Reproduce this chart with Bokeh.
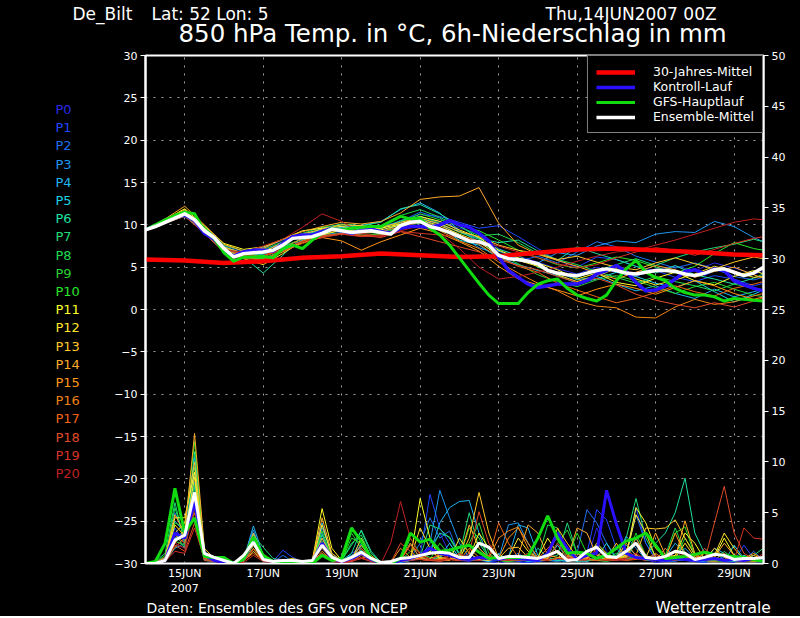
from bokeh.plotting import figure
from bokeh.layouts import column, row
from bokeh.models import Range1d, LinearAxis, Legend, LegendItem, FixedTicker
from bokeh.core.properties import value
from bokeh.embed import file_html
from bokeh.resources import INLINE

FONT = "DejaVu Sans"

# ---------------- time axes (days after 14JUN2007 00Z) ----------------
steps_6h = list(range(64))
days_6h = [s * 0.25 for s in steps_6h]
days_12h = [k * 0.5 for k in range(32)] + [15.75]
clim_days = list(range(16)) + [15.75]

date_ticks = [1, 3, 5, 7, 9, 11, 13, 15]
date_labels = ["15JUN\n2007", "17JUN", "19JUN", "21JUN", "23JUN", "25JUN", "27JUN", "29JUN"]
temp_ticks = list(range(-30, 31, 5))
prec_ticks = list(range(0, 51, 5))

member_names = ["P%d" % i for i in range(21)]
member_colors = ["#2828e6", "#1e46ff", "#1e6ef0", "#1e96f0", "#1eb4f0", "#1ed2e6", "#1ee0a0",
                 "#1edc78", "#1edc50", "#28d232", "#28e628", "#ffff28", "#ffe628", "#ffc828",
                 "#ffaa28", "#ff9614", "#f08214", "#f06414", "#e04a28", "#d83228", "#c02020"]

station_text = "De_Bilt"
coord_text = "Lat: 52 Lon: 5"
run_text = "Thu,14JUN2007 00Z"
title_text = "850 hPa Temp. in °C, 6h-Niederschlag in mm"
source_text = "Daten: Ensembles des GFS von NCEP"
brand_text = "Wetterzentrale"
legend_labels = ["30-Jahres-Mittel", "Kontroll-Lauf", "GFS-Hauptlauf", "Ensemble-Mittel"]

# ---------------- 850 hPa temperature ----------------
clim_temp = [5.9, 5.8, 5.5, 5.7, 6.1, 6.3, 6.6, 6.4, 6.2, 6.3, 6.7, 7.1, 7.2, 7.0, 6.8, 6.5, 6.4]

mean_temp = [9.4, 9.8, 10.3, 10.8, 11.3, 10.6, 9.3, 8.5, 7.2, 6.2, 6.6, 6.7, 6.8, 7.0, 7.6, 8.4,
             8.5, 8.6, 9.0, 9.5, 9.3, 9.1, 9.2, 9.3, 9.1, 8.9, 9.9, 10.3, 10.4, 9.8, 9.5, 9.1,
             8.6, 8.1, 8.0, 7.6, 6.4, 6.0, 5.9, 5.7, 5.4, 4.6, 4.3, 4.1, 4.0, 4.3, 4.6, 4.8,
             4.6, 4.3, 4.2, 4.4, 4.6, 4.6, 4.5, 4.2, 4.0, 4.3, 4.7, 4.8, 4.4, 4.0, 4.3, 5.0]

gfs_temp = [9.4, 10.0, 10.6, 11.1, 11.5, 11.3, 9.3, 8.4, 6.7, 5.7, 6.2, 6.2, 6.3, 6.1, 7.2, 7.6,
            7.2, 8.2, 9.0, 9.6, 9.4, 9.6, 9.7, 9.8, 9.8, 10.4, 11.0, 10.7, 10.8, 9.6, 8.8, 7.6,
            6.1, 4.6, 3.1, 1.7, 0.7, 0.7, 0.7, 2.0, 3.0, 3.4, 3.6, 2.5, 1.7, 1.3, 1.0, 1.7,
            3.4, 4.8, 5.8, 4.4, 3.8, 3.4, 2.5, 2.0, 1.7, 1.7, 1.5, 1.0, 1.3, 1.2, 1.1, 1.0]

ctrl_temp = [9.4, 9.9, 10.4, 10.9, 11.2, 10.5, 9.0, 8.3, 7.0, 6.3, 6.8, 7.0, 7.0, 6.9, 7.8, 8.6,
             8.8, 8.8, 9.2, 9.6, 9.3, 9.0, 9.3, 9.5, 9.2, 9.0, 9.6, 9.8, 9.8, 9.7, 10.0, 10.5,
             10.0, 9.7, 9.0, 8.1, 6.2, 4.6, 3.8, 3.0, 2.6, 2.8, 3.0, 3.0, 3.0, 3.4, 4.2, 4.6,
             5.2, 4.5, 3.2, 2.2, 2.3, 2.8, 3.6, 4.5, 4.7, 4.2, 4.8, 4.6, 3.4, 2.9, 2.5, 2.2]

# ensemble members, 12-hourly
p0_temp = [9.4, 10.2, 11.2, 9.4, 7.3, 6.8, 7.0, 7.9, 8.7, 9.2, 9.6,
           9.5, 9.3, 10.2, 10.9, 10.4, 9.6, 9.0, 7.2, 6.3, 5.6, 4.8,
           4.2, 5.0, 4.4, 3.9, 4.8, 5.1, 4.6, 5.5, 4.9, 4.2, 4.5]
p1_temp = [9.4, 10.3, 11.0, 9.2, 7.0, 6.5, 6.9, 7.7, 8.8, 9.4, 9.7,
           9.4, 9.6, 10.5, 11.2, 11.0, 10.3, 9.6, 9.9, 8.6, 7.2, 5.8,
           5.0, 6.2, 5.9, 5.1, 4.6, 3.8, 3.3, 4.0, 3.6, 2.8, 3.1]
p2_temp = [9.4, 10.4, 11.4, 9.6, 7.5, 6.9, 7.3, 8.2, 8.9, 9.5, 9.8,
           9.7, 9.8, 10.4, 11.5, 10.8, 9.2, 8.4, 6.6, 5.7, 6.3, 5.5,
           6.8, 8.0, 7.4, 6.3, 5.6, 4.9, 5.5, 4.8, 3.9, 3.5, 3.8]
p3_temp = [9.4, 10.2, 11.1, 9.0, 7.1, 6.4, 6.6, 7.4, 8.3, 8.8, 9.1,
           9.0, 9.2, 10.0, 10.7, 10.1, 8.8, 7.3, 6.5, 5.9, 5.5, 6.7,
           6.4, 7.5, 8.1, 7.9, 8.9, 9.2, 9.1, 10.4, 9.8, 8.5, 8.0]
p4_temp = [9.4, 10.3, 11.3, 9.5, 7.4, 6.6, 6.5, 7.3, 8.4, 9.3, 9.7,
           9.9, 10.4, 11.8, 12.6, 11.4, 9.3, 8.0, 6.9, 6.0, 5.2, 4.4,
           3.5, 3.9, 3.0, 2.2, 2.8, 1.9, 1.3, 2.4, 1.5, 2.1, 2.4]
p5_temp = [9.4, 10.2, 11.0, 9.1, 7.0, 6.3, 5.8, 6.9, 8.2, 8.9, 9.4,
           9.3, 9.1, 9.8, 10.6, 9.7, 8.2, 7.6, 6.1, 5.3, 4.6, 4.0,
           3.1, 3.6, 4.4, 3.9, 3.1, 2.6, 3.4, 2.1, 0.9, 1.8, 2.3]
p6_temp = [9.4, 10.4, 11.6, 9.3, 7.2, 6.2, 4.3, 6.4, 8.6, 9.6, 10.1,
           9.9, 10.3, 11.9, 12.4, 11.3, 9.9, 8.4, 7.9, 8.2, 6.9, 5.8,
           7.4, 6.6, 5.9, 5.1, 4.3, 5.2, 4.1, 3.6, 3.0, 3.7, 4.2]
p7_temp = [9.4, 10.3, 11.2, 9.4, 7.3, 6.7, 6.9, 7.8, 8.8, 9.3, 9.6,
           9.4, 9.5, 10.5, 11.0, 10.2, 9.1, 8.3, 7.1, 6.4, 5.0, 4.2,
           3.8, 4.6, 5.3, 6.0, 5.2, 6.1, 6.8, 7.3, 7.7, 8.3, 8.0]
p8_temp = [9.4, 10.5, 11.7, 9.8, 7.6, 6.9, 7.1, 8.0, 9.0, 9.7, 10.0,
           9.8, 9.9, 11.1, 11.8, 10.9, 9.8, 8.7, 8.9, 7.9, 6.6, 5.9,
           5.3, 4.5, 3.8, 3.1, 3.9, 3.3, 2.8, 2.2, 3.0, 2.5, 2.1]
p9_temp = [9.4, 10.2, 11.1, 9.2, 7.1, 6.5, 6.6, 7.5, 8.3, 8.7, 9.0,
           8.8, 8.9, 9.8, 10.2, 9.4, 8.5, 7.9, 6.6, 5.4, 4.1, 3.3,
           2.7, 3.5, 4.0, 3.4, 2.6, 1.9, 2.7, 3.2, 2.4, 1.7, 1.5]
p10_temp = [9.4, 10.4, 11.5, 9.7, 7.4, 6.1, 6.0, 7.0, 8.0, 8.9, 9.3,
            9.1, 9.0, 10.3, 11.3, 10.6, 9.9, 9.3, 8.2, 7.0, 6.1, 5.3,
            4.9, 5.5, 6.2, 5.8, 5.0, 4.3, 5.1, 6.6, 7.9, 7.2, 7.0]
p11_temp = [9.4, 10.6, 11.9, 9.9, 7.8, 7.1, 7.4, 8.3, 9.3, 9.6, 9.8,
            9.5, 9.6, 10.1, 11.0, 10.4, 9.4, 8.5, 7.0, 6.1, 5.5, 4.7,
            3.6, 4.3, 3.2, 2.8, 3.7, 4.4, 3.4, 2.9, 3.9, 4.6, 4.2]
p12_temp = [9.4, 10.3, 11.3, 9.0, 6.8, 6.0, 5.3, 6.6, 8.1, 8.8, 9.4,
            9.2, 9.4, 10.0, 10.6, 9.9, 8.9, 8.0, 6.3, 5.8, 5.1, 4.1,
            3.3, 4.0, 4.8, 3.6, 2.9, 3.5, 4.2, 5.1, 4.5, 3.8, 3.9]
p13_temp = [9.4, 10.5, 11.8, 9.6, 7.4, 6.6, 6.8, 7.9, 8.9, 9.5, 10.0,
            9.9, 9.7, 10.3, 10.8, 10.1, 9.2, 8.6, 7.6, 7.0, 6.6, 5.9,
            6.3, 5.6, 5.0, 4.7, 5.5, 6.1, 5.4, 4.8, 5.6, 6.2, 6.0]
p14_temp = [9.4, 10.7, 12.2, 10.0, 7.7, 6.9, 7.2, 8.3, 9.2, 9.8, 10.3,
            10.1, 10.4, 11.4, 13.0, 13.3, 13.4, 14.4, 10.2, 7.6, 6.5, 5.8,
            5.1, 4.3, 3.6, 4.4, 5.2, 4.7, 3.8, 4.5, 5.0, 4.1, 3.7]
p15_temp = [9.4, 10.4, 11.4, 9.3, 7.0, 6.3, 5.7, 6.8, 7.9, 8.5, 8.1,
            7.0, 8.0, 8.8, 9.6, 9.0, 8.0, 6.9, 5.1, 3.6, 2.9, 2.3,
            1.6, 2.4, 3.0, 2.5, 1.8, 2.6, 3.4, 2.8, 1.9, 1.2, 1.5]
p16_temp = [9.4, 10.5, 11.6, 9.5, 7.2, 6.5, 6.3, 7.2, 8.4, 9.1, 9.4,
            9.0, 9.2, 9.8, 10.5, 9.3, 8.1, 7.2, 5.6, 4.3, 3.1, 2.2,
            1.0, 0.4, 0.2, -0.9, -1.0, 0.3, 1.2, 0.6, 0.9, 1.6, 1.9]
p17_temp = [9.4, 10.3, 11.5, 9.1, 6.9, 6.0, 5.9, 6.9, 7.8, 8.6, 8.9,
            8.7, 8.8, 9.6, 10.4, 9.7, 8.7, 7.7, 6.2, 5.1, 4.4, 3.1,
            2.3, 1.5, 0.8, 1.3, 2.0, 2.8, 2.1, 1.6, 2.5, 3.0, 3.3]
p18_temp = [9.4, 10.4, 11.4, 9.4, 7.2, 6.4, 6.2, 7.1, 8.1, 8.7, 9.0,
            8.8, 8.5, 9.2, 8.6, 8.0, 7.4, 6.8, 5.9, 5.2, 4.7, 3.9,
            3.2, 3.7, 2.9, 1.8, 1.1, 0.6, 0.2, 0.8, 0.3, 1.0, 1.4]
p19_temp = [9.4, 10.2, 11.0, 9.0, 6.8, 6.2, 6.4, 7.2, 8.0, 8.5, 8.9,
            8.6, 8.7, 9.2, 9.0, 8.8, 8.6, 8.1, 7.5, 6.8, 6.1, 5.4,
            4.9, 5.3, 6.1, 6.8, 7.3, 7.0, 6.4, 7.1, 7.8, 8.4, 8.6]
p20_temp = [9.4, 10.3, 11.2, 9.2, 7.0, 6.8, 7.5, 8.3, 9.7, 11.3, 10.4,
            9.0, 8.6, 9.3, 9.9, 9.0, 7.2, 5.0, 3.6, 3.9, 4.4, 5.0,
            5.7, 6.3, 6.8, 7.0, 7.6, 8.2, 8.9, 9.6, 10.3, 10.7, 10.6]

# ---------------- 6h precipitation (mm) ----------------
mean_prec = [0, 0, 0.3, 2.3, 2.8, 7.0, 1.0, 0.6, 0.3, 0, 0.8, 2.1, 0.4, 0.2, 0.3, 0.3,
             0.2, 0.3, 1.8, 0.6, 0.2, 0.6, 1.1, 0.5, 0.1, 0.2, 0.5, 0.6, 0.8, 1.0, 1.1, 1.0,
             0.6, 0.6, 2.0, 1.6, 0.5, 0.7, 0.7, 0.6, 0.5, 0.8, 1.2, 0.3, 0.4, 1.2, 1.6, 0.7,
             0.6, 1.2, 2.0, 0.6, 0.5, 0.7, 1.2, 1.0, 0.4, 0.6, 0.9, 0.8, 0.4, 0.5, 0.5, 0.6]
gfs_prec = [0, 0.2, 2.0, 7.4, 3.0, 4.5, 0.7, 0.6, 0.6, 0, 0.4, 2.6, 0.8, 0.2, 0.1, 0,
            0, 0, 0.8, 0.3, 0.5, 3.5, 2.2, 0.5, 0, 0, 0.5, 3.0, 2.1, 2.4, 1.2, 1.3,
            1.6, 1.8, 1.1, 0.5, 0.6, 0.6, 0.6, 0.7, 2.5, 4.7, 2.5, 1.0, 1.1, 1.0, 0.5, 0.8,
            1.5, 2.2, 2.5, 3.0, 1.8, 0.5, 0.6, 0.7, 0.9, 1.1, 0.9, 0.8, 0.7, 0.6, 0.4, 0.2]
ctrl_prec = [0, 0, 0.3, 3.0, 2.5, 6.0, 0.8, 0.3, 0.1, 0, 0.4, 2.5, 0.5, 0.2, 0.3, 0.2,
             0.1, 0.2, 2.0, 0.5, 0.2, 0.5, 1.0, 0.4, 0, 0, 0.3, 0.5, 0.8, 1.5, 1.0, 0.8,
             0.5, 0.4, 0.6, 0.5, 0.4, 0.6, 0.5, 0.4, 0.3, 1.0, 3.0, 1.5, 0.4, 0.8, 1.0, 7.2,
             3.9, 1.0, 0.6, 0.5, 0.4, 0.3, 0.5, 0.4, 0.3, 0.4, 0.5, 0.3, 0.4, 0.3, 0.5, 0.4]

p0_prec = [0, 0, 0.2, 2.0, 1.5, 6.5, 0.8, 0.3, 0, 0, 0.3, 2.4, 0.3, 0, 0.2, 0,
           0, 0.2, 1.5, 0.3, 0, 0.2, 1.0, 0.3, 0, 0, 0, 0.3, 0.5, 1.5, 3.0, 1.0,
           0.3, 0.2, 0.5, 0.2, 0, 0.3, 0.2, 0, 0.3, 0.5, 2.0, 1.0, 0.2, 0.3, 3.5, 1.2,
           0.3, 0.5, 2.0, 0.4, 0.1, 0.2, 0.3, 0.8, 0.2, 0.1, 0.5, 0.2, 0.1, 0.6, 0.2, 0.1]
p1_prec = [0, 0, 0.3, 3.5, 2.0, 9.0, 1.0, 0.4, 0.1, 0, 0.4, 3.0, 0.5, 0.2, 1.3, 0.6,
           0.2, 0.1, 2.5, 0.4, 0, 1.0, 1.5, 0.4, 0, 0, 0.2, 0.3, 0.8, 6.8, 3.5, 2.0,
           0.5, 1.0, 0.3, 0.2, 0.3, 0.8, 0.2, 0.1, 0.2, 0.3, 0.4, 0.2, 0.5, 1.0, 5.3, 4.3,
           1.5, 0.6, 5.5, 2.0, 0.4, 0.2, 0.3, 0.4, 0.2, 0.1, 0.3, 0.6, 0.2, 1.8, 0.5, 0.2]
p2_prec = [0, 0, 0.4, 5.0, 2.6, 8.0, 0.5, 0.2, 0, 0, 0.2, 2.9, 0.4, 0.1, 0.8, 0.2,
           0, 0.1, 3.0, 0.5, 0.1, 0.3, 2.0, 0.5, 0, 0.1, 0.3, 0.5, 2.0, 4.5, 2.5, 3.2,
           0.8, 0.3, 0.4, 0.2, 0.3, 0.5, 1.0, 0.3, 0.2, 0.4, 0.3, 0.6, 1.0, 5.3, 4.0, 2.0,
           0.6, 0.8, 4.8, 2.0, 0.4, 0.3, 0.2, 0.5, 1.0, 0.3, 0.2, 0.4, 0.2, 0.3, 1.2, 0.3]
p3_prec = [0, 0, 0.3, 4.2, 3.0, 10.5, 1.2, 0.4, 0.1, 0, 0.3, 3.3, 0.5, 0.2, 0.4, 0.3,
           0.1, 0.2, 3.5, 1.0, 0.2, 0.4, 2.5, 0.6, 0, 0, 0.2, 0.4, 0.6, 2.0, 7.2, 4.5,
           2.0, 0.6, 0.3, 0.4, 0.5, 3.8, 4.0, 2.0, 0.4, 0.3, 0.2, 0.4, 1.0, 0.5, 0.3, 0.6,
           0.5, 2.7, 1.5, 0.4, 0.3, 0.2, 0.4, 1.5, 0.5, 0.2, 1.0, 0.4, 0.2, 0.8, 0.3, 0.2]
p4_prec = [0, 0, 0.2, 1.5, 2.0, 7.5, 0.5, 0.2, 0, 0, 0.4, 3.7, 0.8, 0.3, 0.2, 0.1,
           0, 0.3, 4.0, 0.8, 0.2, 0.5, 1.8, 0.5, 0, 0, 0.1, 0.3, 0.5, 1.0, 4.0, 5.5,
           6.1, 6.2, 3.0, 0.5, 0.3, 0.6, 3.8, 3.5, 0.8, 0.4, 0.3, 0.2, 0.5, 1.0, 0.4, 0.3,
           0.6, 1.8, 0.8, 0.3, 0.4, 0.6, 2.0, 1.0, 0.3, 0.2, 1.5, 1.0, 0.3, 0.2, 0.4, 0.6]
p5_prec = [0, 0, 0.5, 2.5, 3.2, 6.0, 0.3, 0.2, 0, 0, 0.3, 1.8, 0.3, 0.1, 0.3, 0.2,
           0.1, 0.1, 2.0, 0.4, 0.2, 0.8, 1.3, 0.3, 0, 0, 0.3, 2.0, 0.5, 0.4, 0.6, 2.0,
           0.5, 0.3, 0.4, 0.2, 1.0, 0.3, 0.4, 0.2, 0.3, 0.5, 1.8, 0.6, 0.3, 0.2, 0.5, 2.0,
           0.4, 0.6, 2.5, 0.8, 0.3, 1.5, 0.4, 0.3, 0.2, 0.3, 0.4, 0.2, 1.8, 0.5, 0.5, 0.3]
p6_prec = [0, 0, 0.6, 3.0, 1.5, 11.0, 1.5, 0.5, 0.2, 0, 0.5, 3.0, 0.6, 0.2, 0.4, 0.2,
           0.1, 0.2, 2.8, 0.6, 0.3, 1.0, 3.3, 1.2, 0.1, 0, 0.2, 0.5, 0.8, 1.2, 3.0, 2.6,
           1.0, 0.4, 2.0, 0.6, 0.3, 0.4, 0.5, 0.3, 1.5, 0.6, 0.3, 0.4, 0.2, 0.3, 0.5, 1.0,
           0.4, 0.5, 0.6, 0.8, 2.0, 3.0, 5.0, 8.4, 3.0, 1.0, 0.4, 0.3, 0.2, 0.8, 0.3, 0.2]
p7_prec = [0, 0.2, 1.0, 6.0, 2.0, 9.5, 1.0, 0.4, 0.2, 0, 0.4, 2.8, 1.6, 0.5, 0.3, 0.2,
           0.1, 0.2, 1.5, 0.5, 0.3, 1.8, 3.2, 1.0, 0.1, 0, 0.3, 0.4, 0.6, 3.8, 3.4, 2.5,
           0.8, 5.0, 1.5, 0.5, 0.3, 0.4, 0.6, 0.3, 0.4, 0.6, 0.8, 4.0, 1.0, 0.5, 0.4, 0.6,
           0.8, 2.5, 6.4, 2.5, 0.6, 0.4, 0.3, 0.5, 0.4, 1.5, 0.5, 0.3, 0.2, 0.4, 0.8, 1.5]
p8_prec = [0, 0, 0.4, 5.5, 2.3, 7.8, 0.6, 0.3, 0.1, 0, 0.3, 2.0, 0.4, 0.2, 0.3, 0.1,
           0, 0.2, 2.2, 0.4, 0.3, 2.0, 2.8, 0.6, 0, 0, 0.2, 0.3, 1.0, 0.6, 0.5, 1.5,
           0.4, 0.3, 0.5, 0.8, 0.3, 0.2, 0.4, 0.3, 0.5, 3.8, 3.5, 1.0, 0.3, 0.4, 0.3, 0.5,
           1.0, 0.4, 0.6, 0.3, 0.5, 0.8, 3.5, 1.0, 0.4, 0.3, 0.2, 1.2, 0.4, 0.3, 0.2, 0.3]
p9_prec = [0, 0, 0.3, 2.2, 1.8, 5.5, 0.4, 0.2, 0, 0, 0.2, 1.5, 0.3, 0.1, 0.2, 0.1,
           0, 0.1, 1.0, 0.3, 0.4, 3.0, 1.5, 0.4, 0, 0, 0.2, 2.5, 1.0, 0.4, 0.3, 0.5,
           0.6, 2.0, 4.0, 1.0, 0.3, 0.2, 0.3, 0.4, 0.3, 0.5, 2.0, 3.3, 1.0, 0.4, 0.3, 0.2,
           0.4, 0.6, 3.0, 0.8, 0.3, 0.4, 0.5, 2.5, 1.0, 0.3, 0.2, 0.3, 0.4, 0.5, 0.2, 0.3]
p10_prec = [0, 0.1, 0.8, 4.0, 3.5, 12.0, 1.0, 0.5, 0.2, 0, 0.5, 2.5, 0.5, 0.2, 0.3, 0.2,
            0, 0.2, 3.2, 0.6, 0.3, 2.5, 2.0, 0.5, 0, 0, 0.3, 1.2, 0.5, 0.4, 2.0, 0.8,
            0.5, 3.5, 2.5, 0.6, 0.3, 0.4, 0.5, 1.0, 0.4, 0.3, 0.6, 0.5, 3.0, 1.0, 0.4, 0.3,
            0.5, 0.6, 2.0, 0.8, 0.4, 0.6, 3.0, 3.6, 0.8, 0.4, 0.3, 0.2, 0.4, 0.3, 0.5, 0.3]
p11_prec = [0, 0, 0.5, 4.5, 4.5, 9.0, 0.5, 0.3, 0.1, 0, 0.4, 2.2, 0.4, 0.2, 0.2, 0.1,
            0.1, 0.3, 5.4, 1.5, 0.3, 0.4, 1.0, 0.3, 0, 0, 0.2, 0.4, 6.4, 2.5, 0.5, 0.4,
            0.5, 0.6, 3.0, 1.5, 0.4, 0.3, 0.5, 0.4, 0.6, 2.5, 1.0, 0.4, 0.3, 0.5, 2.0, 1.0,
            0.4, 0.8, 5.5, 4.0, 1.5, 0.6, 0.8, 3.0, 2.0, 0.4, 0.6, 2.5, 0.8, 0.3, 0.4, 0.5]
p12_prec = [0, 0, 0.4, 3.8, 2.7, 8.5, 0.8, 0.3, 0.1, 0, 0.2, 1.2, 0.3, 0.2, 0.3, 0.5,
            0.2, 0.2, 3.8, 0.8, 0.2, 0.5, 1.2, 0.3, 0, 0, 0.3, 0.5, 3.5, 1.5, 0.4, 0.3,
            2.5, 1.0, 0.4, 0.3, 0.5, 0.6, 2.5, 1.2, 0.4, 0.3, 0.5, 1.5, 0.4, 0.6, 1.8, 0.5,
            0.6, 0.8, 4.8, 3.0, 0.6, 0.4, 0.5, 2.0, 0.6, 0.3, 0.8, 3.0, 1.5, 0.4, 0.5, 0.3]
p13_prec = [0, 0, 0.3, 3.0, 4.0, 10.0, 0.8, 0.4, 0.1, 0, 0.4, 1.8, 0.4, 0.2, 0.2, 0.2,
            0.1, 0.2, 2.5, 0.6, 0.2, 0.3, 2.5, 0.6, 0, 0, 0.2, 0.4, 0.5, 1.2, 0.6, 0.5,
            0.4, 2.5, 7.0, 3.0, 0.5, 1.5, 1.6, 0.6, 0.4, 0.5, 3.5, 2.0, 0.6, 0.4, 0.3, 0.5,
            2.0, 0.6, 0.8, 3.5, 3.4, 3.5, 4.3, 2.5, 0.8, 0.4, 1.5, 0.6, 0.3, 0.5, 0.8, 0.4]
p14_prec = [0, 0.1, 0.6, 4.8, 3.0, 12.8, 1.5, 0.5, 0.2, 0, 0.5, 3.0, 0.6, 0.3, 0.4, 0.2,
            0.1, 0.3, 4.5, 1.0, 0.3, 0.5, 1.8, 0.5, 0, 0, 0.2, 0.4, 0.6, 0.5, 0.8, 1.0,
            0.6, 3.8, 1.5, 0.6, 0.4, 0.5, 0.8, 3.8, 3.0, 0.8, 0.6, 0.5, 3.5, 3.0, 0.8, 0.5,
            0.6, 2.0, 0.8, 0.5, 3.0, 0.8, 0.6, 4.2, 1.0, 0.4, 0.6, 2.0, 0.8, 0.3, 0.5, 0.4]
p15_prec = [0, 0, 0.3, 2.0, 3.3, 6.5, 0.7, 0.3, 0.1, 0, 0.3, 2.5, 0.5, 0.2, 0.2, 0.1,
            0, 0.2, 1.8, 0.5, 0.2, 0.3, 0.5, 0.8, 0, 0.1, 1.5, 0.6, 0.4, 0.3, 0.5, 0.4,
            0.3, 1.5, 0.6, 0.4, 0.5, 2.5, 3.5, 2.0, 0.6, 0.5, 3.0, 0.8, 0.4, 0.5, 1.0, 0.4,
            0.5, 0.6, 2.5, 0.8, 0.4, 0.5, 3.0, 0.8, 0.4, 1.0, 0.5, 0.3, 0.4, 0.5, 1.0, 0.4]
p16_prec = [0, 0, 0.2, 1.6, 2.5, 5.0, 0.5, 0.2, 0, 0, 0.2, 1.5, 0.3, 0.1, 0.2, 0.1,
            0, 0.1, 1.2, 0.3, 0.1, 0.2, 0.8, 0.3, 0, 0, 0.3, 2.0, 0.5, 0.3, 0.4, 0.3,
            1.0, 0.4, 0.3, 0.5, 2.5, 3.2, 3.6, 1.5, 0.4, 0.3, 0.5, 0.4, 1.0, 0.5, 0.3, 0.4,
            0.3, 1.5, 0.5, 0.4, 1.0, 0.3, 0.4, 0.5, 0.8, 0.3, 0.2, 0.4, 0.7, 0.3, 0.2, 0.3]
p17_prec = [0, 0, 0.4, 2.8, 2.0, 7.0, 1.0, 0.4, 0.1, 0, 0.3, 1.0, 0.3, 0.2, 0.3, 0.2,
            0.1, 0.2, 2.0, 0.4, 0.2, 0.3, 1.5, 0.4, 0, 0, 0.3, 1.8, 1.0, 0.4, 0.3, 0.8,
            0.4, 0.3, 0.5, 0.6, 4.0, 2.0, 0.6, 0.4, 0.5, 1.5, 2.5, 0.8, 0.4, 1.0, 0.5, 0.3,
            0.5, 0.3, 0.4, 0.6, 0.3, 1.5, 0.5, 0.4, 0.3, 0.5, 0.4, 1.0, 0.3, 0.2, 0.4, 0.3]
p18_prec = [0, 0, 0.2, 1.8, 1.2, 4.0, 0.3, 0.2, 0, 0, 0.2, 1.4, 0.3, 0.1, 0.2, 0.1,
            0, 0.1, 1.0, 0.3, 0.1, 0.2, 0.5, 0.2, 0, 0.1, 2.0, 1.2, 0.4, 0.3, 0.2, 0.4,
            0.3, 1.0, 5.1, 2.0, 0.5, 0.3, 0.4, 0.3, 0.5, 0.4, 1.3, 0.5, 0.3, 0.4, 0.3, 0.8,
            0.4, 0.3, 0.5, 0.5, 0.3, 0.4, 0.5, 1.0, 0.4, 0.3, 4.0, 7.6, 3.0, 1.0, 0.4, 0.3]
p19_prec = [0, 0, 0.2, 1.2, 1.0, 3.5, 0.5, 0.2, 0, 0, 0.1, 0.8, 0.2, 0.1, 0.2, 0.1,
            0, 0.1, 0.8, 0.2, 0.1, 0.2, 0.6, 0.2, 0, 0, 0.2, 0.3, 0.4, 0.3, 1.0, 0.4,
            0.3, 0.4, 0.5, 0.8, 0.3, 0.4, 0.3, 0.4, 0.5, 0.3, 2.0, 0.6, 0.4, 0.3, 1.5, 0.4,
            0.3, 0.4, 0.5, 0.3, 0.8, 0.4, 0.3, 0.5, 0.4, 1.5, 0.5, 0.4, 0.3, 3.5, 2.5, 2.4]
p20_prec = [0, 0, 0.3, 2.0, 1.5, 5.5, 0.7, 0.3, 0.1, 0, 0.3, 2.0, 0.4, 0.2, 0.3, 0.1,
            0, 0.2, 1.5, 0.4, 0.2, 0.3, 0.5, 0.3, 0, 2.0, 6.1, 2.5, 0.8, 0.4, 0.3, 0.5,
            1.0, 0.4, 0.3, 0.5, 0.4, 0.3, 0.5, 1.0, 0.4, 0.3, 0.5, 0.4, 0.3, 1.2, 0.4, 0.3,
            0.4, 0.5, 1.0, 0.4, 0.3, 0.5, 1.3, 0.4, 0.3, 0.4, 0.5, 0.3, 0.5, 0.4, 0.3, 1.0]

member_temps = [p0_temp, p1_temp, p2_temp, p3_temp, p4_temp, p5_temp, p6_temp, p7_temp,
                p8_temp, p9_temp, p10_temp, p11_temp, p12_temp, p13_temp, p14_temp,
                p15_temp, p16_temp, p17_temp, p18_temp, p19_temp, p20_temp]
member_precs = [p0_prec, p1_prec, p2_prec, p3_prec, p4_prec, p5_prec, p6_prec, p7_prec,
                p8_prec, p9_prec, p10_prec, p11_prec, p12_prec, p13_prec, p14_prec,
                p15_prec, p16_prec, p17_prec, p18_prec, p19_prec, p20_prec]

# ---------------- layout geometry (page pixels) ----------------
PAGE_W = 800
HEAD_H = 47
SIDE_W = 100
BORDER_T, BORDER_B = 8, 36
FRAME_TOP, FRAME_BOTTOM = 55, 563
ROW_H = BORDER_T + (FRAME_BOTTOM - FRAME_TOP) + BORDER_B
FOOT_H = 17
BLACK_PAGE = {"background-color": "black"}


def text_panel(w, h, top=0, bottom=0, y0=0):
    f = figure(width=w, height=h, x_range=Range1d(0, w),
               y_range=Range1d(y0 + h - top - bottom, y0),
               x_axis_type=None, y_axis_type=None, output_backend="svg",
               toolbar_location=None, min_border_left=0, min_border_right=0,
               min_border_top=top, min_border_bottom=bottom, styles=BLACK_PAGE)
    f.background_fill_color = None
    f.border_fill_color = "black"
    f.outline_line_color = None
    return f


def put(f, x, y, txt, size, color="white"):
    f.text(x=[x], y=[y], text=[txt], text_color=color, text_font=value(FONT),
           text_font_size=size, text_baseline="middle", text_align="left")


# header: y in page pixels
header = text_panel(PAGE_W, HEAD_H)
put(header, 72, 13, station_text, "17px")
put(header, 151, 13, coord_text, "17px")
put(header, 545, 13, run_text, "17px")
put(header, 178, 33, title_text, "24.5px")

# left column with member names (frame aligned with the chart frame)
side = text_panel(SIDE_W, ROW_H, top=BORDER_T, bottom=BORDER_B, y0=FRAME_TOP)
side.text(x=[55] * len(member_names), y=[109 + i * 18.2 for i in range(len(member_names))],
          text=member_names, text_color=member_colors, text_font=value(FONT),
          text_font_size="13px", text_baseline="middle", text_align="left")

# footer
foot_y0 = HEAD_H + ROW_H
footer = text_panel(PAGE_W, FOOT_H, y0=foot_y0)
put(footer, 146, 607, source_text, "14px")
put(footer, 655, 607, brand_text, "15.5px")

# ---------------- main chart ----------------
main = figure(width=PAGE_W - SIDE_W, height=ROW_H, x_range=Range1d(0, 15.75),
              y_range=Range1d(-30, 30), output_backend="svg", toolbar_location=None,
              min_border_left=145 - SIDE_W, min_border_right=37,
              min_border_top=BORDER_T, min_border_bottom=BORDER_B, styles=BLACK_PAGE)
main.extra_y_ranges = {"precip": Range1d(0, 50)}
main.background_fill_color = "black"
main.border_fill_color = "black"
main.outline_line_color = "white"
main.outline_line_width = 2

main.xaxis.ticker = FixedTicker(ticks=date_ticks)
main.xaxis.major_label_overrides = dict(zip(date_ticks, date_labels))
main.xaxis.major_tick_line_color = None
main.xaxis.major_tick_out = 0
main.xaxis.major_tick_in = 0
main.xaxis.minor_tick_line_color = None
main.xaxis.axis_line_color = "white"
main.xaxis.major_label_text_color = "white"
main.xaxis.major_label_text_font = FONT
main.xaxis.major_label_text_font_size = "11px"
main.xaxis.major_label_standoff = 3

main.yaxis.ticker = FixedTicker(ticks=temp_ticks)
right_axis = LinearAxis(y_range_name="precip", ticker=FixedTicker(ticks=prec_ticks))
main.add_layout(right_axis, "right")
for ax in (main.yaxis[0], right_axis):
    ax.axis_line_color = "white"
    ax.axis_line_width = 2
    ax.major_tick_line_color = "white"
    ax.major_tick_out = 5
    ax.major_tick_in = 0
    ax.minor_tick_line_color = None
    ax.major_label_text_color = "white"
    ax.major_label_text_font = FONT
    ax.major_label_text_font_size = "11px"
    ax.major_label_standoff = 3

main.xgrid.grid_line_color = "#a0a0a0"
main.xgrid.grid_line_dash = "2 6"
main.ygrid.ticker = FixedTicker(ticks=temp_ticks[1:-1])
main.ygrid.grid_line_color = "#a0a0a0"
main.ygrid.grid_line_dash = "2 6"

for temps, precs, col in zip(member_temps, member_precs, member_colors):
    main.line(days_12h, temps, line_color=col, line_width=1)
    main.line(days_6h, precs, line_color=col, line_width=1, y_range_name="precip")

r_clim = main.line(clim_days, clim_temp, line_color="#ff0000", line_width=4.5)
r_ctrl = main.line(days_6h, ctrl_temp, line_color="#2a10ff", line_width=3.5, line_join="round")
main.line(days_6h, ctrl_prec, line_color="#2a10ff", line_width=3, y_range_name="precip")
r_gfs = main.line(days_6h, gfs_temp, line_color="#10dc10", line_width=3, line_join="round")
main.line(days_6h, gfs_prec, line_color="#10dc10", line_width=3, y_range_name="precip")
r_mean = main.line(days_6h, mean_temp, line_color="white", line_width=3.5, line_join="round")
main.line(days_6h, mean_prec, line_color="white", line_width=3, y_range_name="precip")

legend = Legend(items=[LegendItem(label=lab, renderers=[r])
                       for lab, r in zip(legend_labels, [r_clim, r_ctrl, r_gfs, r_mean])],
                location="top_right", margin=0, padding=8, spacing=0,
                glyph_width=39, glyph_height=14, label_height=14, label_standoff=18,
                background_fill_color="black", background_fill_alpha=1.0,
                border_line_color="white", border_line_width=1.5,
                label_text_color="white", label_text_font=FONT, label_text_font_size="12.5px")
main.add_layout(legend)

p = column(header, row(side, main, spacing=0, styles=BLACK_PAGE), footer,
           spacing=0, styles=BLACK_PAGE)

open("out.html", "w").write(file_html(p, INLINE))
